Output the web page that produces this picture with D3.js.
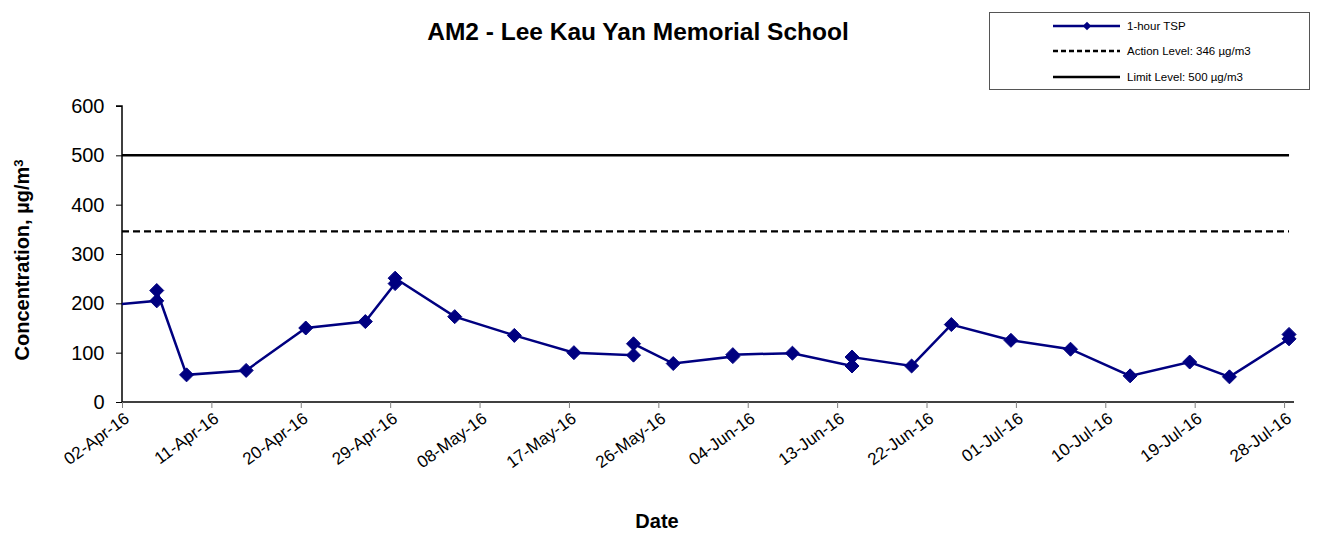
<!DOCTYPE html>
<html>
<head>
<meta charset="utf-8">
<script src="https://cdn.jsdelivr.net/npm/d3@7"></script>
<style>
    body { margin: 0; background: #fff; }
    svg { font-family: Arial, "Liberation Sans", sans-serif; }
</style>
</head>
<body>
<svg id="chart" width="1318" height="540"></svg>
<script>
/**
 * Data
 */
var sampleTimes = [
    "2016-03-30 12:00", "2016-04-05 12:00", "2016-04-05 12:00", "2016-04-08 12:00",
    "2016-04-14 12:00", "2016-04-20 12:00", "2016-04-26 12:00", "2016-04-29 12:00",
    "2016-04-29 12:00", "2016-05-05 12:00", "2016-05-11 12:00", "2016-05-17 12:00",
    "2016-05-23 12:00", "2016-05-23 12:00", "2016-05-27 12:00", "2016-06-02 12:00",
    "2016-06-02 12:00", "2016-06-08 12:00", "2016-06-14 12:00", "2016-06-14 12:00",
    "2016-06-20 12:00", "2016-06-24 12:00", "2016-06-30 12:00", "2016-07-06 12:00",
    "2016-07-12 12:00", "2016-07-18 12:00", "2016-07-22 12:00", "2016-07-28 12:00",
    "2016-07-28 12:00"
];
var tspValues = [
    194, 205, 226, 55,
    64, 150, 163, 240,
    251, 173, 135, 100,
    95, 118, 78, 92,
    96, 99, 73, 91,
    73, 157, 125, 107,
    53, 81, 51, 128,
    137
];
var levelTimes = ["2016-04-02 00:00", "2016-07-28 12:00"];
var actionLevel = 346;
var limitLevel = 500;

var xTickLabels = ["02-Apr-16", "11-Apr-16", "20-Apr-16", "29-Apr-16", "08-May-16",
    "17-May-16", "26-May-16", "04-Jun-16", "13-Jun-16", "22-Jun-16", "01-Jul-16",
    "10-Jul-16", "19-Jul-16", "28-Jul-16"];
var xDomain = ["2016-04-02 00:00", "2016-07-29 00:00"];
var yTicks = [0, 100, 200, 300, 400, 500, 600];

var legendLabels = ["1-hour TSP", "Action Level: 346 \u00b5g/m3", "Limit Level: 500 \u00b5g/m3"];

/**
 * Chart
 */
var parseTime = d3.timeParse("%Y-%m-%d %H:%M");
var parseTick = d3.timeParse("%d-%b-%y");
var navy = "#000080";
var fontFamily = "Arial, 'Liberation Sans', sans-serif";

var svg = d3.select("#chart");
var plot = {left: 122, right: 1294, top: 106, bottom: 402};

var xScale = d3.scaleTime()
    .domain(xDomain.map(parseTime))
    .range([plot.left, plot.right]);

var yScale = d3.scaleLinear()
    .domain([0, 600])
    .range([plot.bottom, plot.top]);

var points = sampleTimes.map(function(t, i){
    return {date: parseTime(t), value: tspValues[i]};
});

svg.append("defs").append("clipPath")
    .attr("id", "plotClip")
    .append("rect")
    .attr("x", plot.left)
    .attr("y", plot.top - 20)
    .attr("width", plot.right - plot.left + 10)
    .attr("height", plot.bottom - plot.top + 30);

// level lines
var levelLine = d3.line()
    .x(function(d){ return xScale(d.date); })
    .y(function(d){ return yScale(d.value); });

function levelData(v) {
    return levelTimes.map(function(t){ return {date: parseTime(t), value: v}; });
}

svg.append("path")
    .datum(levelData(limitLevel))
    .attr("d", levelLine)
    .style("fill", "none")
    .style("stroke", "#000")
    .style("stroke-width", 2.5);

svg.append("path")
    .datum(levelData(actionLevel))
    .attr("d", levelLine)
    .style("fill", "none")
    .style("stroke", "#000")
    .style("stroke-width", 2.2)
    .style("stroke-dasharray", "7,4");

// axes
var yAxis = d3.axisLeft(yScale)
    .tickValues(yTicks)
    .tickSize(6)
    .tickPadding(11.5);

var yG = svg.append("g")
    .attr("transform", "translate(" + plot.left + ",0)")
    .call(yAxis);
yG.select(".domain").style("stroke", "#000").style("stroke-width", 1.5)
    .attr("d", "M-6," + plot.top + "H0V" + plot.bottom);
yG.selectAll(".tick line").style("stroke", "#000");
yG.selectAll(".tick text")
    .style("font-size", "20px")
    .style("font-family", fontFamily)
    .style("fill", "#000");

var xAxis = d3.axisBottom(xScale)
    .tickValues(xTickLabels.map(parseTick))
    .tickSize(6)
    .tickFormat(function(d, i){ return xTickLabels[i]; });

var xG = svg.append("g")
    .attr("transform", "translate(0," + plot.bottom + ")")
    .call(xAxis);
xG.select(".domain").style("stroke", "#000").style("stroke-width", 1.5)
    .attr("d", "M" + plot.left + ",0H" + plot.right);
xG.selectAll(".tick line").style("stroke", "#808080");
xG.selectAll(".tick text")
    .style("font-size", "17px")
    .style("font-family", fontFamily)
    .style("fill", "#000")
    .style("text-anchor", "end")
    .attr("x", 0).attr("y", 0).attr("dy", 0)
    .attr("transform", "translate(8,19) rotate(-36)");

// series
var seriesG = svg.append("g").attr("clip-path", "url(#plotClip)");

var tspLine = d3.line()
    .x(function(d){ return xScale(d.date); })
    .y(function(d){ return yScale(d.value); });

seriesG.append("path")
    .datum(points)
    .attr("d", tspLine)
    .style("fill", "none")
    .style("stroke", navy)
    .style("stroke-width", 2.5);

var diamond = d3.symbol().type(d3.symbolDiamond2).size(125);

seriesG.selectAll(".marker")
    .data(points)
    .enter()
    .append("path")
    .attr("class", "marker")
    .attr("d", diamond)
    .attr("transform", function(d){
        return "translate(" + xScale(d.date) + "," + yScale(d.value) + ")";
    })
    .style("fill", navy)
    .style("stroke", navy)
    .style("stroke-width", 1);

// titles
svg.append("text")
    .attr("x", 638).attr("y", 40)
    .attr("text-anchor", "middle")
    .style("font-size", "24.5px")
    .style("font-weight", "bold")
    .text("AM2 - Lee Kau Yan Memorial School");

svg.append("text")
    .attr("x", 657).attr("y", 528)
    .attr("text-anchor", "middle")
    .style("font-size", "20px")
    .style("font-weight", "bold")
    .text("Date");

var yLabel = svg.append("text")
    .attr("transform", "translate(29,260) rotate(-90)")
    .attr("text-anchor", "middle")
    .style("font-size", "20px")
    .style("font-weight", "bold");
yLabel.append("tspan").text("Concentration, \u00b5g/m");
yLabel.append("tspan")
    .attr("dy", "-0.45em")
    .style("font-size", "13px")
    .text("3");

// legend
var legend = svg.append("g");
legend.append("rect")
    .attr("x", 989.5).attr("y", 12.5)
    .attr("width", 320).attr("height", 77)
    .style("fill", "#fff")
    .style("stroke", "#555")
    .style("stroke-width", 1);

var legendRows = [26, 51, 77];
var legendStyles = [
    {stroke: navy, dash: null, marker: true},
    {stroke: "#000", dash: "5,3", marker: false},
    {stroke: "#000", dash: null, marker: false}
];

legendLabels.forEach(function(label, i){
    var y = legendRows[i];
    legend.append("line")
        .attr("x1", 1053).attr("x2", 1120)
        .attr("y1", y).attr("y2", y)
        .style("stroke", legendStyles[i].stroke)
        .style("stroke-width", 2.5)
        .style("stroke-dasharray", legendStyles[i].dash);
    if (legendStyles[i].marker) {
        legend.append("path")
            .attr("d", d3.symbol().type(d3.symbolDiamond2).size(45))
            .attr("transform", "translate(1087," + y + ")")
            .style("fill", navy);
    }
    legend.append("text")
        .attr("x", 1127).attr("y", y + 4)
        .style("font-size", "11.5px")
        .text(label);
});
</script>
</body>
</html>
